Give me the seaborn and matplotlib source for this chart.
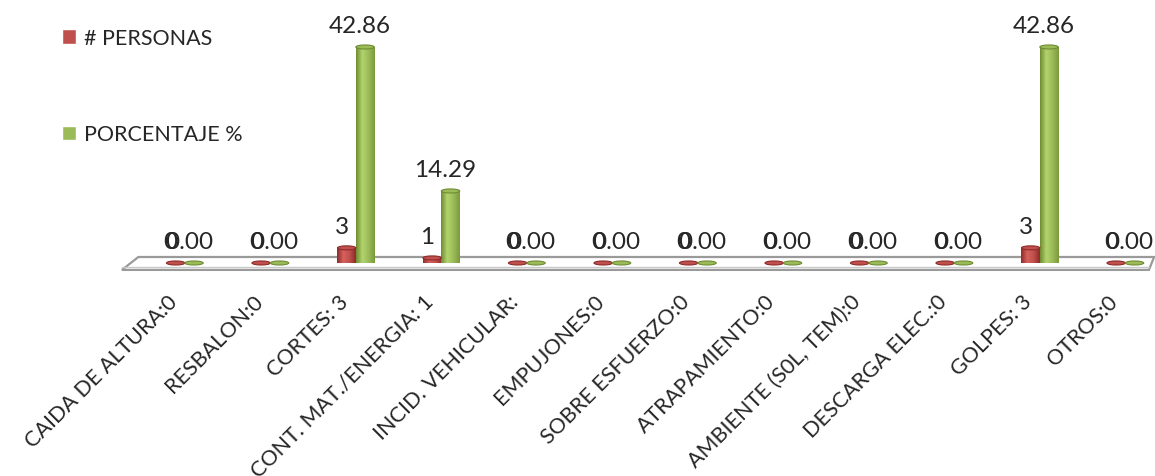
import numpy as np
import pandas as pd
import matplotlib
matplotlib.use("Agg")
import matplotlib.pyplot as plt
import matplotlib.transforms as mtransforms
from matplotlib.patches import Polygon, Ellipse
from matplotlib.colors import LinearSegmentedColormap
import seaborn as sns

# ---- data ----
categories = [
    "CAIDA DE ALTURA:0", "RESBALON:0", "CORTES: 3", "CONT. MAT./ENERGIA: 1",
    "INCID. VEHICULAR:", "EMPUJONES:0", "SOBRE ESFUERZO:0", "ATRAPAMIENTO:0",
    "AMBIENTE (S0L, TEM):0", "DESCARGA ELEC.:0", "GOLPES: 3", "OTROS:0",
]
personas = [0, 0, 3, 1, 0, 0, 0, 0, 0, 0, 3, 0]
porcentaje = [0.00, 0.00, 42.86, 14.29, 0.00, 0.00, 0.00, 0.00, 0.00, 0.00, 42.86, 0.00]
series_names = ["# PERSONAS", "PORCENTAJE %"]

df = pd.DataFrame({
    "categoria": categories * 2,
    "valor": personas + porcentaje,
    "serie": [series_names[0]] * len(categories) + [series_names[1]] * len(categories),
})

RED = "#C0504D"
GREEN = "#9BBB59"
palette = {series_names[0]: RED, series_names[1]: GREEN}

sns.set_theme(style="white")
plt.rcParams["font.family"] = ["Lato", "DejaVu Sans"]

W, H = 1155, 477
fig = plt.figure(figsize=(W / 100, H / 100), dpi=100)
ax = fig.add_axes([125 / W, 1 - 272 / H, 1026 / W, 272 / H])

sns.barplot(data=df, x="categoria", y="valor", hue="serie", order=categories,
            hue_order=series_names, palette=palette, width=0.43, dodge=True,
            saturation=1, ax=ax, legend=True, zorder=3)

XLIM = (-0.7, 11.3)
YLIM = (-1.59, 52.38)

# floor slab behind the cylinders
floor = Polygon([(0.013, 0.0515), (1.003, 0.0515), (0.998, 0.004), (-0.003, 0.004)],
                closed=True, transform=ax.transAxes, facecolor="white",
                edgecolor="#9A9A9A", lw=1.6, zorder=1, clip_on=False)
ax.add_patch(floor)
ax.plot([-0.003, 0.998], [0.013, 0.013], transform=ax.transAxes, color="#C8C8C8",
        lw=1.0, zorder=1, clip_on=False)

# cylinder shading and caps on each bar
shades = {
    RED: LinearSegmentedColormap.from_list("r", ["#8E2B29", "#D8615D", "#C0504D", "#8E2B29"]),
    GREEN: LinearSegmentedColormap.from_list("g", ["#6F8C34", "#B2D46C", "#9BBB59", "#7B9A3C"]),
}
grad = np.linspace(0, 1, 64).reshape(1, -1)
cap_h = 0.8
for container, color in zip(ax.containers, [RED, GREEN]):
    for bar in container:
        x0, w, h = bar.get_x(), bar.get_width(), bar.get_height()
        bar.set_edgecolor("none")
        if h > 0:
            im = ax.imshow(grad, cmap=shades[color], aspect="auto",
                           extent=(x0, x0 + w, 0, h), zorder=3.5)
            im.set_clip_path(bar)
        ax.add_patch(Ellipse((x0 + w / 2, h), w, cap_h, facecolor=color,
                             edgecolor=shades[color](0.0), lw=0.8, zorder=4))
ax.set_xlim(*XLIM)
ax.set_ylim(*YLIM)

# value labels, nudged slightly left of the cylinder axes
PAD = 8
texts = []
texts += ax.bar_label(ax.containers[0], labels=[f"{v:d}" for v in personas], padding=PAD,
                      fontsize=17.5, color="#262626", zorder=5)
texts += ax.bar_label(ax.containers[1], labels=[f"{v:.2f}" for v in porcentaje], padding=PAD,
                      fontsize=17.5, color="#262626", zorder=5)
for t in texts:
    t.xyann = (-3.6, PAD)

# axes cosmetics
sns.despine(ax=ax, left=True, bottom=True, top=True, right=True)
ax.set_yticks([])
ax.set_xlabel("")
ax.set_ylabel("")
ax.tick_params(axis="x", length=0, pad=0)
ax.set_xticks(range(len(categories)))
ax.set_xticklabels(categories, rotation=45, ha="right", va="center",
                   rotation_mode="anchor", fontsize=15.5, color="#262626")
offset = mtransforms.ScaledTranslation(-11 / 100, -27 / 100, fig.dpi_scale_trans)
for lbl in ax.get_xticklabels():
    lbl.set_transform(lbl.get_transform() + offset)

# legend stacked in the upper left
handles, labels = ax.get_legend_handles_labels()
ax.legend(handles, labels, loc="upper left", bbox_to_anchor=(62 / W, 1 - 29 / H),
          bbox_transform=fig.transFigure, frameon=False, fontsize=15.5,
          handlelength=0.65, handleheight=0.65, handletextpad=0.35,
          labelspacing=3.55, borderpad=0, borderaxespad=0)

fig.savefig("out.png", dpi=100, facecolor="white")
